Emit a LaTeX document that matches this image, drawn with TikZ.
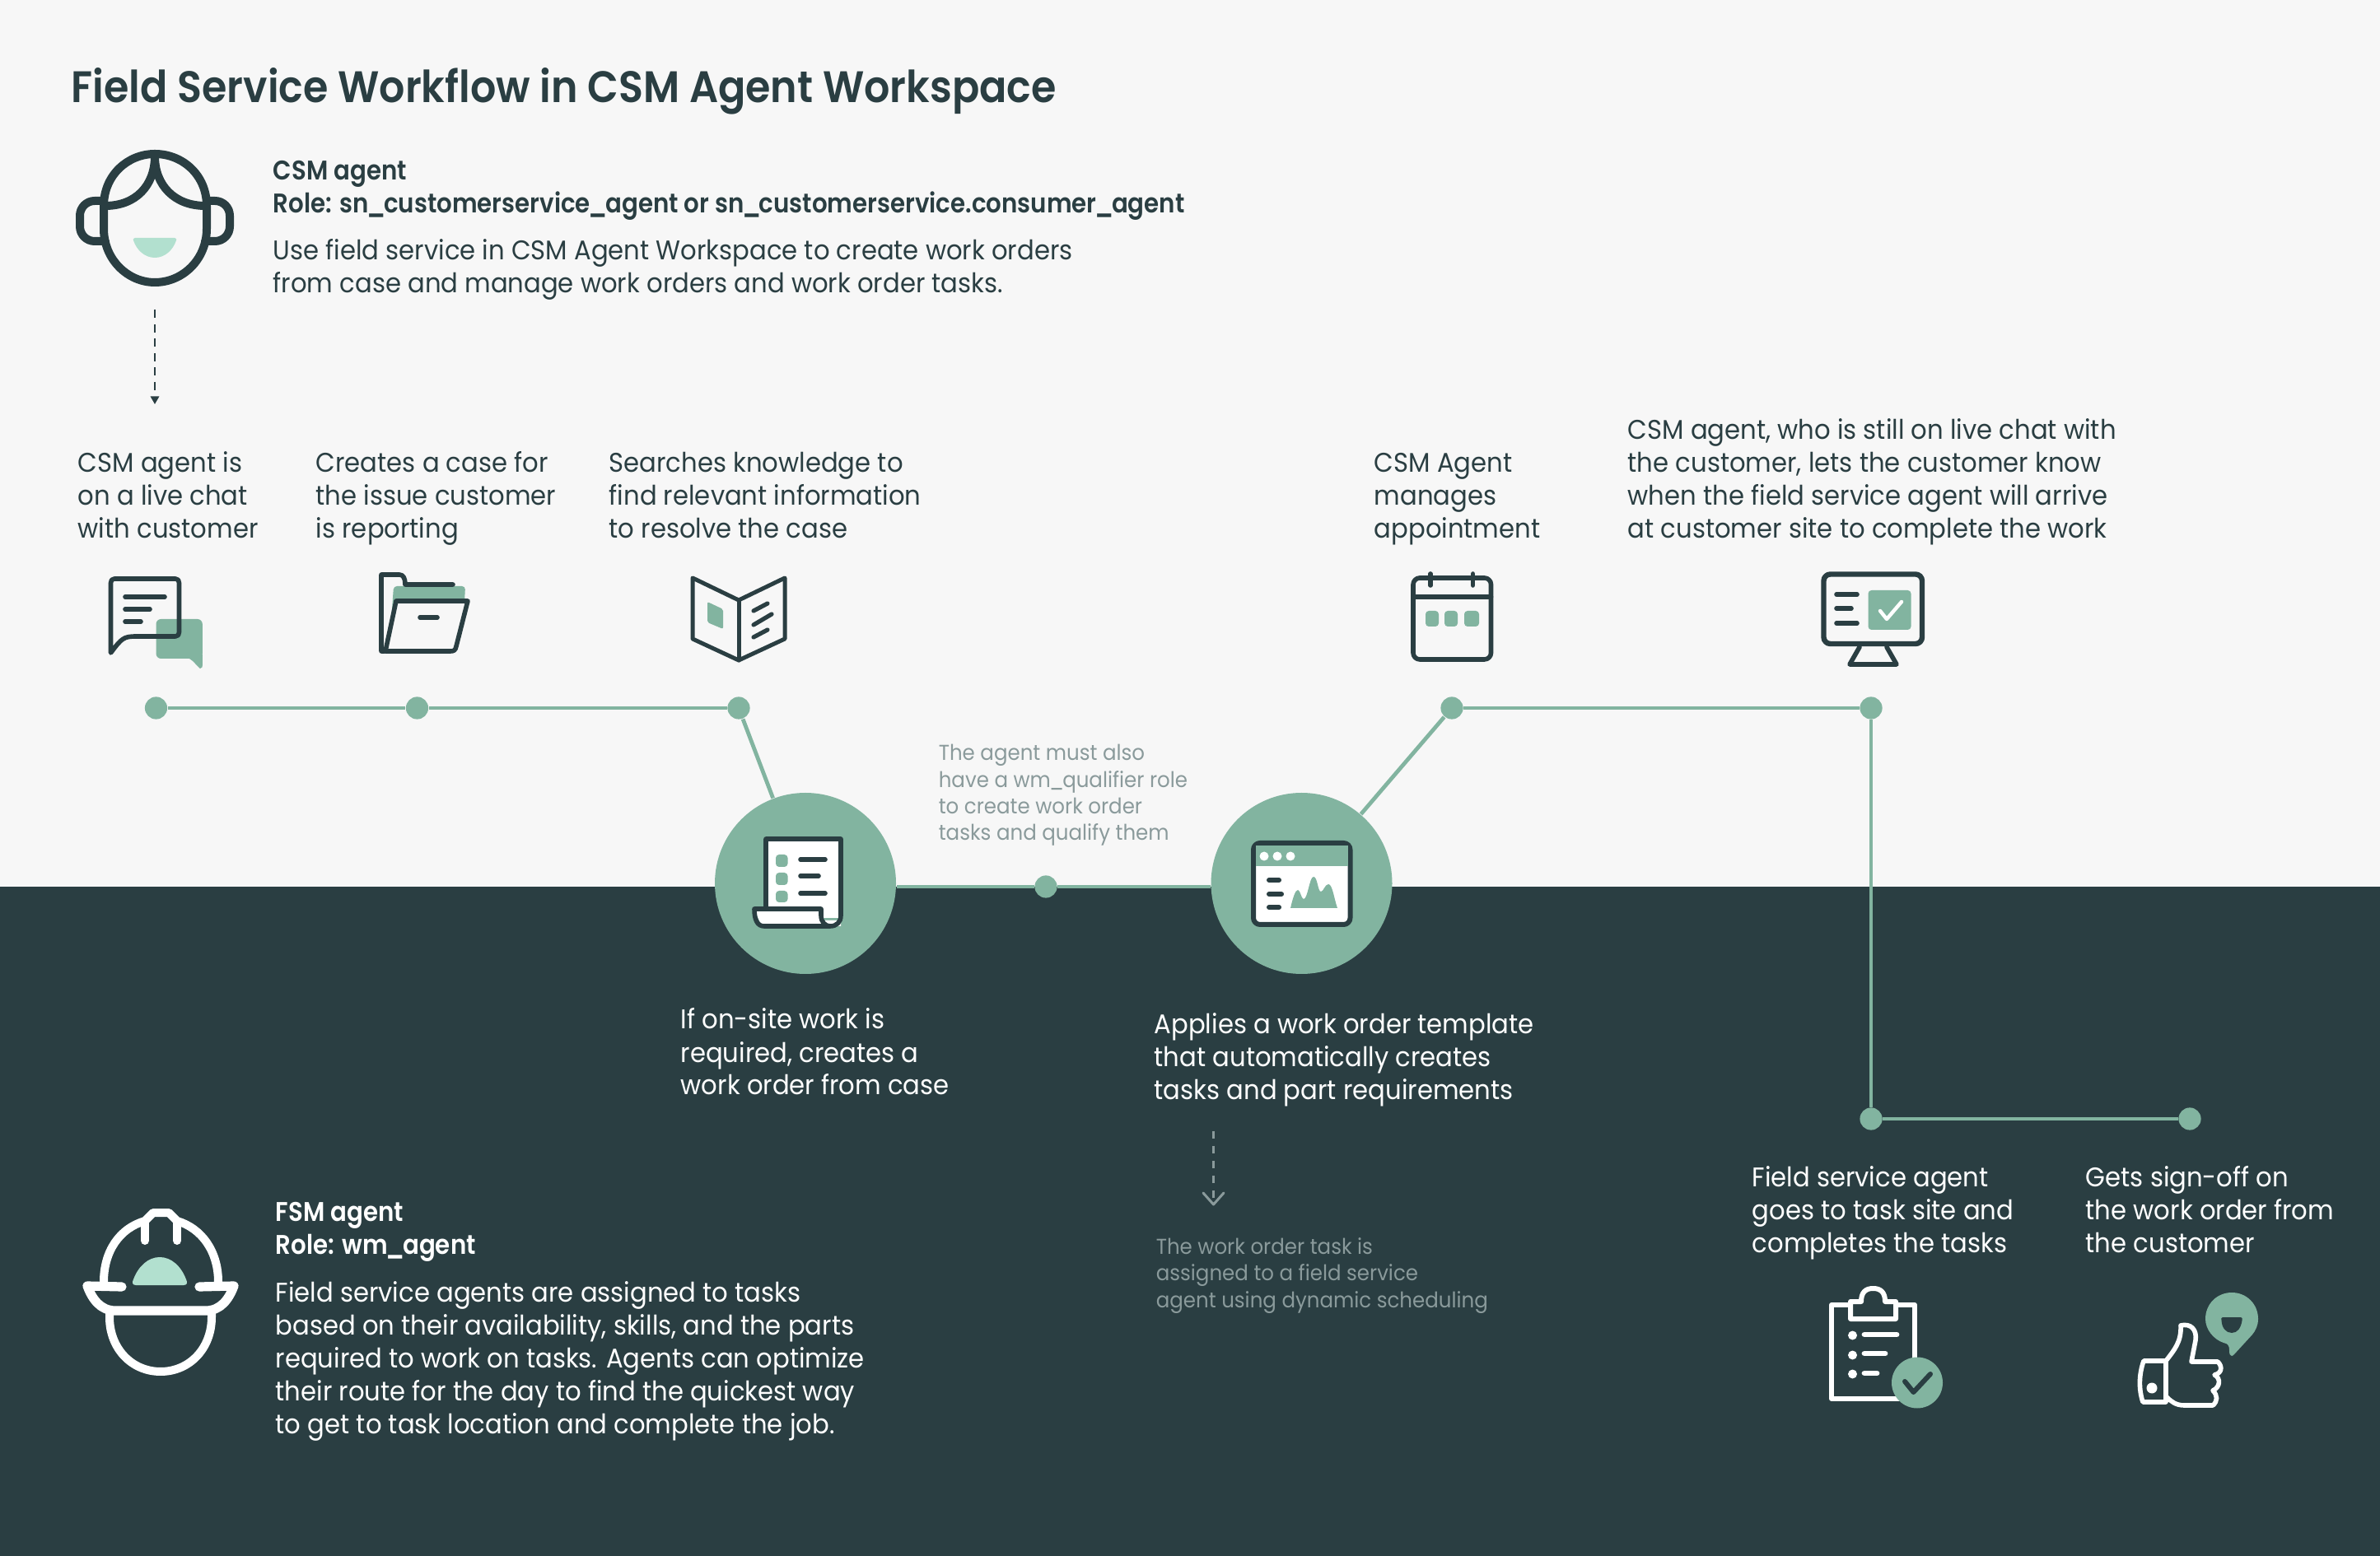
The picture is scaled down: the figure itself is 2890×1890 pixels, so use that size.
\documentclass[tikz,border=0pt]{standalone}
\usepackage{fontspec}
\setmainfont{Poppins}[FakeStretch=0.935]
\newfontfamily\semib{Poppins SemiBold}[FakeStretch=0.892]
\newfontfamily\semit{Poppins SemiBold}[FakeStretch=0.917]
\newcommand{\nus}{\kern-0.07em\_\kern-0.07em}
\usetikzlibrary{arrows.meta}
\definecolor{dk}{HTML}{2A3E42}
\definecolor{lt}{HTML}{F7F7F7}
\definecolor{gr}{HTML}{82B4A0}
\definecolor{mint}{HTML}{B2E0CF}
\definecolor{gy}{HTML}{8A9A9B}
\tikzset{
 x=0.25pt,y=-0.25pt,
 txt/.style={anchor=base west,inner sep=0pt,align=left,font=\fontsize{8.2pt}{10pt}\selectfont,text=dk},
 wtxt/.style={txt,text=white},
 note/.style={txt,font=\fontsize{6.55pt}{8.1pt}\selectfont,text=gy},
 dot/.style={circle,fill=gr,inner sep=0pt,minimum size=6.8pt},
 bigc/.style={circle,fill=gr,inner sep=0pt,minimum size=55pt},
 link/.style={draw=gr,line width=1.2pt},
 ic/.style={draw=dk,line width=1.4pt,line cap=round,line join=round},
 wic/.style={draw=white,line width=1.5pt,line cap=round,line join=round},
}
\begin{document}
\begin{tikzpicture}
\useasboundingbox (0,0) rectangle (2890,1890);
\fill[lt] (0,0) rectangle (2890,1077);
\fill[dk] (0,1077) rectangle (2890,1890);
% title
\node[txt,font=\fontsize{13.4pt}{16pt}\semit] (title) at (86,125) {Field Service Workflow in CSM Agent Workspace};
% CSM agent icon
\begin{scope}[line width=2.5pt,line cap=round,line join=round]
\draw[dk] (126,250) .. controls (126,213) and (155,187) .. (188,187) .. controls (222,187) and (251,213) .. (251,250) -- (251,278) .. controls (251,315) and (222,343) .. (188,343) .. controls (155,343) and (126,315) .. (126,278) -- cycle;
\draw[dk] (188,190) .. controls (188,225) and (165,250) .. (128,250);
\draw[dk] (188,190) .. controls (188,225) and (212,250) .. (249,250);
\draw[dk] (126,244) -- (115,244) .. controls (105,244) and (97,252) .. (97,262) -- (97,275) .. controls (97,285) and (105,293) .. (115,293) -- (128,293);
\draw[dk] (251,244) -- (261,244) .. controls (271,244) and (279,252) .. (279,262) -- (279,275) .. controls (279,285) and (271,293) .. (261,293) -- (249,293);
\end{scope}
\fill[mint] (164,289) -- (212,289) .. controls (215,289) and (214,291) .. (214,292) .. controls (210,304) and (200,313) .. (188,313) .. controls (176,313) and (166,304) .. (162,292) .. controls (162,291) and (161,289) .. (164,289) -- cycle;
\coordinate (a1) at (188,376);
\coordinate (a2) at (188,491);
\draw[dk,line width=0.5pt,dash pattern=on 2.5pt off 1.9pt,-{Triangle[length=2.4pt,width=2.6pt]}] (a1) -- (a2);
% top text
\node[txt,font=\fontsize{8.2pt}{10pt}\semib] (csmh) at (331,259) {CSM agent\\Role: sn\nus customerservice\nus agent or sn\nus customerservice.consumer\nus agent};
\node[txt] (csmp) at (331,356) {Use field service in CSM Agent Workspace to create work orders\\from case and manage work orders and work order tasks.};
\node[txt] (t1) at (94,654) {CSM agent is\\on a live chat\\with customer};
\node[txt] (t2) at (383,654) {Creates a case for\\the issue customer\\is reporting};
\node[txt] (t3) at (739,654) {Searches knowledge to\\find relevant information\\to resolve the case};
\node[txt] (t4) at (1668,654) {CSM Agent\\manages\\appointment};
\node[txt] (t5) at (1976,654) {CSM agent, who is still on live chat with\\the customer, lets the customer know\\when the field service agent will arrive\\at customer site to complete the work};
\node[note] (n1) at (1139,1021) {The agent must also\\have a wm\nus qualifier role\\to create work order\\tasks and qualify them};
\node[wtxt] (t6) at (826,1330) {If on-site work is\\required, creates a\\work order from case};
\node[wtxt] (t7) at (1401,1336) {Applies a work order template\\that automatically creates\\tasks and part requirements};
\node[note] (n2) at (1403,1588) {The work order task is\\assigned to a field service\\agent using dynamic scheduling};
\node[wtxt] (t8) at (2127,1521) {Field service agent\\goes to task site and\\completes the tasks};
\node[wtxt] (t9) at (2532,1521) {Gets sign-off on\\the work order from\\the customer};
\node[wtxt,font=\fontsize{8.2pt}{10pt}\semib] (fsmh) at (334,1524) {FSM agent\\Role: wm\nus agent};
\node[wtxt] (fsmp) at (334,1741) {Field service agents are assigned to tasks\\based on their availability, skills, and the parts\\required to work on tasks. Agents can optimize\\their route for the day to find the quickest way\\to get to task location and complete the job.};
% nodes
\node[dot] (d1) at (189.5,860) {};
\node[dot] (d2) at (506.5,860) {};
\node[dot] (d3) at (897,860) {};
\node[dot] (d4) at (1763,860) {};
\node[dot] (d5) at (2272,860) {};
\node[dot] (d6) at (2272,1359) {};
\node[dot] (d7) at (2659,1359) {};
\node[dot] (dm) at (1270,1077) {};
\node[bigc] (c1) at (978,1073) {};
\node[bigc] (c2) at (1580.5,1073) {};
\draw[link] (d1) -- (d2);
\draw[link] (d2) -- (d3);
\draw[link] (d3) -- (c1);
\draw[link] (c1.east |- dm) -- (dm);
\draw[link] (dm) -- (c2.west |- dm);
\draw[link] (c2) -- (d4);
\draw[link] (d4) -- (d5);
\draw[link] (d5) -- (d6);
\draw[link] (d6) -- (d7);
% chat icon
\fill[gr,rounded corners=1.5pt] (189.5,752) rectangle (245.8,800);
\fill[gr] (225,799) .. controls (233,799) and (235,805) .. (243,812) .. controls (246,812) and (245.8,810) .. (245.8,805) -- (245.8,795) -- cycle;
\draw[ic] (134.5,793) -- (134.5,708) .. controls (134.5,705) and (136,703) .. (139,703) -- (213,703) .. controls (216,703) and (217.5,705) .. (217.5,708) -- (217.5,768) .. controls (217.5,771) and (216,773) .. (213,773) -- (166,773) .. controls (150,773) and (148,775) .. cycle;
\draw[ic,line width=1.4pt] (152,725) -- (200,725) (152,740) -- (182,740) (152,755) -- (171,755);
% folder icon
\fill[gr,rounded corners=1pt] (478,712) -- (565,712) -- (564,732) -- (480,732) -- (474,768) -- cycle;
\draw[ic] (467,791) -- (463,791) -- (463,698) -- (485,698) .. controls (490,698) and (492,703) .. (492,710) -- (550,710);
\draw[ic] (481,730) -- (568,730) -- (554,785) .. controls (553,790) and (551,791) .. (547,791) -- (468,791) -- cycle;
\draw[ic,line width=1.4pt] (510,750) -- (531,750);
% book icon
\draw[ic,line width=1.25pt] (841,702) -- (897,729) -- (953,702) -- (953,776) -- (897,802) -- (841,776) -- cycle;
\draw[ic,line width=1.25pt] (897,729) -- (897,802);
\draw[ic,line width=1.3pt] (915,742) -- (932,733) (915,759) -- (937,746) (915,774) -- (932,765);
\fill[gr,rounded corners=0.5pt] (859,731) -- (878,740) -- (878,764) -- (859,756) -- cycle;
% calendar icon
\draw[ic,rounded corners=2pt] (1716,702) rectangle (1810.5,801);
\draw[ic] (1716,725) -- (1810.5,725) (1737,697) -- (1737,711) (1788.5,697) -- (1788.5,711);
\fill[gr,rounded corners=1pt] (1731,742) rectangle (1747,761) (1754,742) rectangle (1770,761) (1778,742) rectangle (1796,761);
% monitor icon
\draw[ic,line width=1.6pt,rounded corners=2pt] (2214.5,697.5) rectangle (2334,782);
\draw[ic] (2258,786) -- (2246,807) -- (2303,807) -- (2291,786);
\draw[ic,line width=1.4pt] (2230,722) -- (2255,722) (2230,739) -- (2248,739) (2230,757) -- (2255,757);
\fill[gr,rounded corners=1pt] (2268.5,717) rectangle (2320.5,765);
\draw[draw=white,line width=1.1pt,line cap=round,line join=round] (2283,742) -- (2291,752) -- (2309,731);
% scroll icon
\fill[white] (930,1019) rectangle (1021,1115);
\fill[white] (916,1105) -- (1000,1105) -- (1000,1118) -- (1021,1118) -- (1021,1125) -- (925,1125) -- cycle;
\draw[ic] (930,1104) -- (930,1019) -- (1021,1019) -- (1021,1112) .. controls (1021,1120) and (1016,1125) .. (1008,1125) -- (928,1125) .. controls (920,1125) and (916,1118) .. (916,1104) -- (997,1104) -- (997,1112) .. controls (997,1120) and (1002,1125) .. (1008,1125);
\fill[gr,rounded corners=1pt] (942,1038) rectangle (956.5,1053) (942,1060) rectangle (956.5,1075) (942,1082) rectangle (956.5,1096);
\draw[ic,line width=1.4pt] (972,1044) -- (1002,1044) (972,1064) -- (994,1064) (972,1085) -- (1002,1085);
% window icon
\draw[ic,line width=1.5pt,fill=white,rounded corners=2pt] (1522,1024) rectangle (1639.5,1123);
\fill[gr] (1525,1027) rectangle (1636.5,1052.5);
\fill[white] (1535,1040) circle[radius=5.5] (1551,1040) circle[radius=5.5] (1567,1040) circle[radius=5.5];
\draw[ic,line width=1.5pt] (1541,1069) -- (1553,1069) (1541,1086) -- (1556,1086) (1541,1102) -- (1553,1102);
\fill[gr] (1567,1103) .. controls (1570,1090) and (1573,1081) .. (1576,1081) .. controls (1579,1081) and (1580,1092) .. (1583,1092) .. controls (1588,1092) and (1590,1065) .. (1595,1065) .. controls (1600,1065) and (1600,1083) .. (1604,1083) .. controls (1607,1083) and (1609,1074) .. (1613,1074) .. controls (1618,1074) and (1620,1092) .. (1624,1103) -- cycle;
% helmet
\begin{scope}[line cap=round,line join=round]
\draw[white,line width=2.5pt] (133,1592) -- (133,1600) .. controls (133,1638) and (160,1666) .. (195,1666) .. controls (230,1666) and (257,1638) .. (257,1600) -- (257,1592);
\draw[white,line width=2.8pt] (148,1563) -- (106,1562) .. controls (112,1578) and (122,1592) .. (140,1592) -- (250,1592) .. controls (268,1592) and (278,1578) .. (284,1562) -- (242,1563);
\draw[white,line width=2.5pt] (126,1557) .. controls (126,1520) and (145,1492) .. (176,1483) -- (186,1473) -- (205,1473) -- (215,1483) .. controls (245,1492) and (265,1520) .. (265,1557);
\draw[white,line width=2.5pt] (176,1483) -- (176,1507) (215,1483) -- (215,1507);
\end{scope}
\fill[mint] (165,1561) .. controls (161,1561) and (160,1558) .. (162,1554) .. controls (168,1538) and (180,1527) .. (194,1527) .. controls (208,1527) and (220,1538) .. (226,1554) .. controls (228,1558) and (227,1561) .. (223,1561) -- cycle;
% dashed arrow lower
\coordinate (b1) at (1473.5,1374);
\coordinate (b2) at (1473.5,1463);
\draw[gy,line width=0.6pt,dash pattern=on 2.3pt off 2.2pt] (b1) -- (b2);
\draw[gy,line width=0.75pt,line cap=round,line join=round] (1461,1449) -- (b2) -- (1486,1449);
% clipboard
\draw[wic] (2244,1585) -- (2224,1585) -- (2224,1699) -- (2325,1699) -- (2325,1585) -- (2305,1585);
\draw[wic] (2247,1581) -- (2260,1581) .. controls (2260,1570) and (2265,1565) .. (2274.5,1565) .. controls (2284,1565) and (2289,1570) .. (2289,1581) -- (2302,1581) -- (2302,1602) -- (2247,1602) -- cycle;
\fill[white] (2249.5,1622) circle[radius=5.5] (2249.5,1646) circle[radius=5.5] (2249.5,1669) circle[radius=5.5];
\draw[wic,line width=1.7pt] (2264,1621) -- (2303,1621) (2264,1644) -- (2289,1644) (2264,1668) -- (2279,1668);
\fill[gr] (2328,1679.5) circle[radius=31];
\draw[dk,line width=1.5pt,line cap=round,line join=round] (2313,1678) -- (2323.5,1691) -- (2344,1669);
% thumb
\begin{scope}[line width=1.4pt,line cap=round,line join=round]
\draw[white] (2630,1653) -- (2603,1653) .. controls (2597,1670) and (2597,1688) .. (2602,1703) -- (2630,1703) -- cycle;
\fill[white] (2613,1686) circle[radius=6.5];
\draw[white] (2630,1653) .. controls (2640,1640) and (2649,1630) .. (2648,1610) .. controls (2660,1607) and (2668,1615) .. (2666,1628) -- (2661,1654) -- (2693,1654) .. controls (2699,1660) and (2698,1668) .. (2689,1670) .. controls (2697,1674) and (2696,1685) .. (2687,1689) .. controls (2693,1695) and (2693,1702) .. (2687,1707) -- (2652,1707) .. controls (2642,1707) and (2636,1702) .. (2631,1697);
\end{scope}
\fill[gr] (2710,1647) .. controls (2708,1647) and (2707,1645) .. (2707,1640) .. controls (2707,1634) and (2705,1632) .. (2700,1631) .. controls (2688,1627) and (2678,1615) .. (2678,1602) .. controls (2678,1584) and (2692,1570) .. (2710,1570) .. controls (2728,1570) and (2742,1584) .. (2742,1602) .. controls (2742,1610) and (2739,1616) .. (2735,1621) -- (2713,1645) .. controls (2712,1646) and (2711,1647) .. (2710,1647) -- cycle;
\fill[dk] (2699,1600) -- (2721,1600) .. controls (2723,1600) and (2723,1602) .. (2722.5,1604) .. controls (2721,1613) and (2717,1619) .. (2710,1619) .. controls (2703,1619) and (2698,1613) .. (2697.5,1604) .. controls (2697,1602) and (2697,1600) .. (2699,1600) -- cycle;
\end{tikzpicture}
\end{document}
